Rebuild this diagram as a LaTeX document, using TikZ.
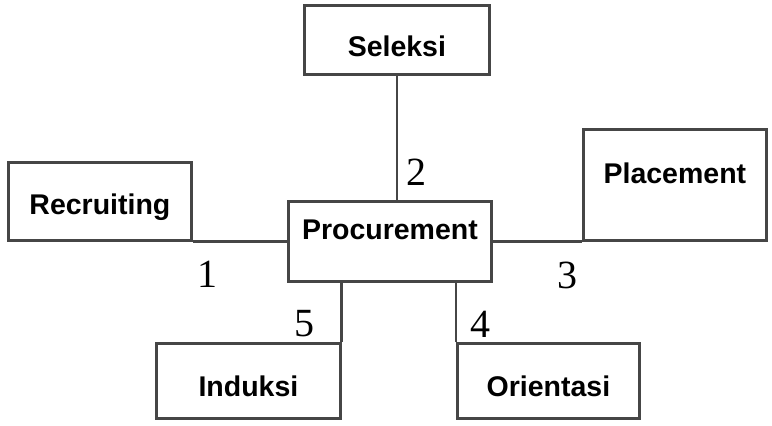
\documentclass[tikz,border=0pt]{standalone}
\usepackage{fontspec}
\setmainfont{Liberation Serif}
\setsansfont{Liberation Sans}
\usepackage{tikz}
\definecolor{boxgray}{RGB}{70,70,70}

\begin{document}
\begin{tikzpicture}[x=1pt,y=-1pt]
\tikzstyle{box}=[draw=boxgray,line width=2.8pt,inner sep=0pt,anchor=north west,
  font=\sffamily\bfseries\fontsize{28.5}{34}\selectfont]
\tikzstyle{num}=[inner sep=0pt,font=\fontsize{40}{44}\selectfont]
\useasboundingbox (0,0) rectangle (772,426);
    \node[box,minimum width=183pt,text height=52pt,text depth=26pt](recr) at (7,161){Recruiting};
    \node[box,minimum width=185pt,text height=51pt,text depth=18pt](sel) at (303,4){Seleksi};
    \node[box,minimum width=203pt,text height=38pt,text depth=42pt](proc) at (287,200){Procurement};
    \node[box,minimum width=183pt,text height=54pt,text depth=57pt](plac) at (582,128){Placement};
    \node[box,minimum width=184pt,text height=53pt,text depth=22pt](ind) at (155,342){Induksi};
    \node[box,minimum width=182pt,text height=53pt,text depth=22pt](ori) at (456,342){Orientasi};
    \draw[boxgray,line width=2.8pt](recr.south east)--(recr.south east -| proc.west);
    \draw[boxgray,line width=2.8pt](sel.south)--(sel.south |- proc.north);
    \draw[boxgray,line width=2.8pt](proc.east |- plac.south west)--(plac.south west);
    \draw[boxgray,line width=2.8pt](ori.north west)--(ori.north west |- proc.south);
    \draw[boxgray,line width=2.8pt](ind.north east)--(ind.north east |- proc.south);
    \node[num](n1) at (207,274){1};
    \node[num](n2) at (416,172){2};
    \node[num](n3) at (567,275){3};
    \node[num](n4) at (480,324){4};
    \node[num](n5) at (304,324){5};
\end{tikzpicture}
\end{document}
